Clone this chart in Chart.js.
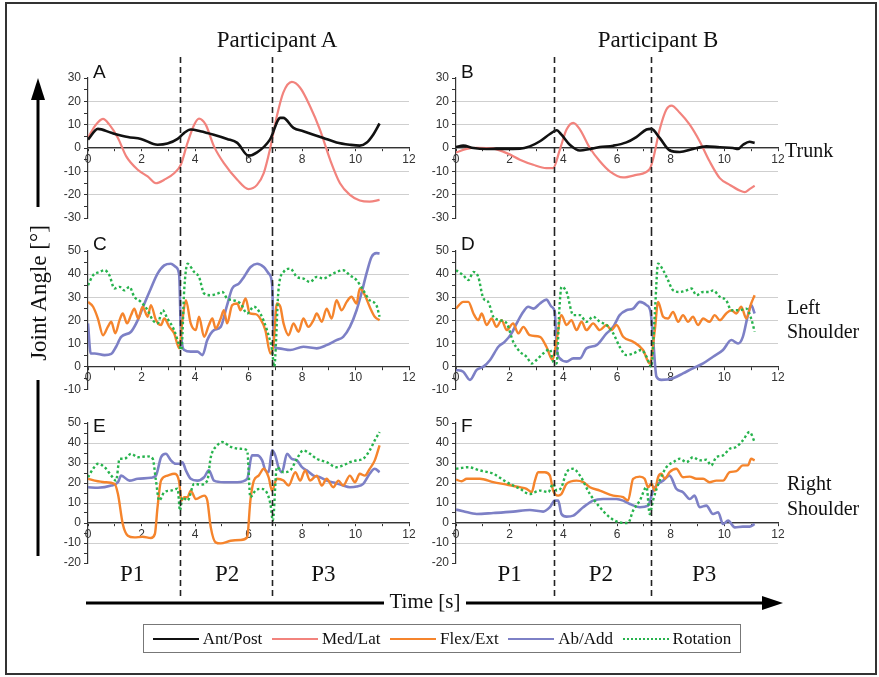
<!DOCTYPE html>
<html>
<head>
<meta charset="utf-8">
<script src="https://cdn.jsdelivr.net/npm/chart.js@4.4.1/dist/chart.umd.min.js"></script>
<style>
  body { margin: 0; width: 879px; height: 677px; position: relative; overflow: hidden; background: #fff; font-family: "Liberation Serif", "Times New Roman", serif; color: #111; }
  .frame { position: absolute; left: 5px; top: 2px; width: 872px; height: 673px; border: 2px solid #333; box-sizing: border-box; }
  canvas { position: absolute; }
  .txt { position: absolute; white-space: nowrap; line-height: 1; }
  .legend { position: absolute; left: 143px; top: 624px; width: 598px; height: 29px; border: 1px solid #777; box-sizing: border-box;
            display: flex; align-items: center; justify-content: space-around; font-size: 17px; padding: 0 4px; }
  .legend span { display: inline-flex; align-items: center; }
  .legend i { display: inline-block; width: 46px; height: 0; border-top: 2.5px solid; margin-right: 4px; }
  svg { position: absolute; left: 0; top: 0; }
</style>
</head>
<body>
<div class="frame"></div>

<canvas id="cA" width="390" height="195" style="left:40px;top:35px"></canvas>
<canvas id="cB" width="392" height="195" style="left:408px;top:35px"></canvas>
<canvas id="cC" width="390" height="170" style="left:40px;top:230px"></canvas>
<canvas id="cD" width="392" height="170" style="left:408px;top:230px"></canvas>
<canvas id="cE" width="390" height="200" style="left:40px;top:400px"></canvas>
<canvas id="cF" width="392" height="200" style="left:408px;top:400px"></canvas>

<div class="txt" style="left:277px;top:28px;font-size:23px;transform:translateX(-50%)">Participant A</div>
<div class="txt" style="left:658px;top:28px;font-size:23px;transform:translateX(-50%)">Participant B</div>
<div class="txt" style="left:785px;top:140px;font-size:20px">Trunk</div>
<div class="txt" style="left:787px;top:297px;font-size:20px">Left</div>
<div class="txt" style="left:787px;top:321px;font-size:20px">Shoulder</div>
<div class="txt" style="left:787px;top:473px;font-size:20px">Right</div>
<div class="txt" style="left:787px;top:498px;font-size:20px">Shoulder</div>

<svg width="879" height="677">
  <line x1="38" y1="98" x2="38" y2="207" stroke="#000" stroke-width="3"/>
  <polygon points="38,78 31,100 45,100" fill="#000"/>
  <line x1="38" y1="380" x2="38" y2="556" stroke="#000" stroke-width="3"/>
  <line x1="86" y1="603" x2="384" y2="603" stroke="#000" stroke-width="3"/>
  <line x1="466" y1="603" x2="768" y2="603" stroke="#000" stroke-width="3"/>
  <polygon points="783,603 762,596 762,610" fill="#000"/>
</svg>
<div class="txt" style="left:38px;top:293px;font-size:23px;transform:translate(-50%,-50%) rotate(-90deg)">Joint Angle [°]</div>
<div class="txt" style="left:425px;top:603px;font-size:21px;transform:translate(-50%,-55%)">Time [s]</div>

<div class="legend">
  <span><i style="border-color:#111"></i>Ant/Post</span>
  <span><i style="border-color:#f2837d"></i>Med/Lat</span>
  <span><i style="border-color:#f5842c"></i>Flex/Ext</span>
  <span><i style="border-color:#7d80c6"></i>Ab/Add</span>
  <span><i style="border-top:2.5px dotted #27b34d"></i>Rotation</span>
</div>

<script>
// phase boundaries (s) and P-label positions
const phaseA = [3.44, 6.86];
const phaseB = [3.66, 7.25];
const pTimesA = [1.65, 5.2, 8.8];
const pTimesB = [2.0, 5.4, 9.25];
const phaseNames = ['P1', 'P2', 'P3'];

// A: trunk, participant A
const aAntPost = [[0,3.6],[0.37,8.2],[0.87,6.5],[1.49,4.7],[1.98,3.9],[2.6,1.4],[2.97,1.9],[3.35,3.9],[3.6,6.5],[3.84,7.9],[4.2,7.2],[4.7,5.7],[5.2,3.9],[5.58,2.2],[6.0,-3.3],[6.32,-1.9],[6.8,3.6],[7.19,12.9],[7.3,12.9],[7.68,8.6],[8.05,7.2],[8.43,5.7],[8.8,4.3],[9.29,2.4],[9.79,1.4],[10.16,1.0],[10.41,2.2],[10.66,5.7],[10.9,10.5]];
const aMedLat = [[0,4.3],[0.25,9.3],[0.56,12.5],[0.8,10],[1.12,4.3],[1.43,-3.6],[1.86,-9.3],[2.23,-12.2],[2.54,-15.1],[2.85,-13.6],[3.22,-10.8],[3.47,-7.2],[3.72,2.2],[3.97,10],[4.15,12.6],[4.4,10],[4.71,0.7],[5.08,-6.5],[5.58,-13.6],[6.0,-17.6],[6.32,-15.8],[6.57,-10.8],[6.8,-0.7],[7.06,13.6],[7.3,23.7],[7.62,28.3],[7.93,25.8],[8.3,17.9],[8.67,7.9],[9.05,-5],[9.42,-15.1],[9.79,-20.1],[10.16,-22.5],[10.53,-23],[10.9,-22.2]];

// B: trunk, participant B
const bAntPost = [[0,0.4],[0.27,1.0],[0.65,0],[1.14,-0.4],[1.76,-0.4],[2.38,-0.3],[2.75,0.7],[3.13,2.9],[3.5,6],[3.75,7.6],[3.93,5.7],[4.24,1.4],[4.62,-1.1],[4.99,-0.4],[5.36,0.4],[5.86,1.0],[6.35,2.4],[6.72,4.7],[7.1,7.9],[7.28,8.2],[7.59,4.3],[7.97,-1.1],[8.34,-1.7],[8.83,-0.4],[9.33,0.7],[9.83,0.3],[10.32,0],[10.51,-0.4],[10.7,1.4],[10.94,2.7],[11.13,2.2]];
const bMedLat = [[0,-1.9],[0.4,-0.4],[0.77,0.1],[1.39,-0.3],[1.89,-2.2],[2.38,-5],[2.88,-7.2],[3.37,-8.6],[3.62,-8.6],[3.87,-0.7],[4.12,7.9],[4.37,10.8],[4.62,7.9],[4.99,0],[5.36,-5.7],[5.73,-10],[6.23,-12.6],[6.72,-11.5],[7.22,-9],[7.34,-5],[7.59,7.9],[7.84,16.5],[8.03,18.2],[8.34,15.1],[8.71,10],[9.08,2.9],[9.45,-5.7],[9.83,-12.9],[10.2,-15.8],[10.57,-18.2],[10.76,-18.9],[10.94,-17.6],[11.13,-16.2]];

// C: left shoulder, participant A
const cFlexExt = [[0,28],[0.19,25.9],[0.37,20.8],[0.56,13.6],[0.74,17.2],[0.87,19.4],[1.02,14.4],[1.18,20.1],[1.3,23],[1.46,18.7],[1.61,22.3],[1.73,25.1],[1.88,20.8],[2.04,25.9],[2.23,21.6],[2.35,26.6],[2.54,20.1],[2.73,18],[2.85,20.8],[3.04,17.2],[3.22,14.4],[3.41,7.9],[3.53,20.1],[3.66,28.7],[3.84,18.7],[4.03,15.8],[4.15,21.6],[4.34,12.9],[4.52,18],[4.65,20.8],[4.77,16.5],[4.96,20.8],[5.08,24.4],[5.2,18.7],[5.39,26.6],[5.58,27.3],[5.7,24.4],[5.89,29.5],[6.05,23],[6.26,22.7],[6.44,20.8],[6.63,15.8],[6.82,5.7],[6.94,10],[7.06,27.3],[7.19,25.9],[7.31,18.7],[7.5,13.6],[7.68,18.7],[7.87,15.1],[8.05,20.8],[8.24,17.2],[8.43,20.1],[8.55,23],[8.74,19.4],[8.92,25.1],[9.11,20.8],[9.29,28.7],[9.48,24.4],[9.67,28],[9.85,30.2],[10.04,27.3],[10.16,33.8],[10.35,30.9],[10.53,25.9],[10.72,21.6],[10.9,20.1]];
const cAbAdd = [[0,18.7],[0.1,5.7],[0.25,5.7],[0.62,5],[0.87,5.5],[1.05,8.6],[1.24,12.9],[1.61,15.1],[1.86,20.1],[2.11,27.3],[2.35,33.8],[2.6,40.2],[2.85,43.8],[3.1,44.5],[3.28,43.1],[3.41,39.5],[3.47,15.8],[3.6,7.2],[3.84,6.5],[4.09,6.5],[4.28,5],[4.46,11.5],[4.71,15.8],[4.96,17.2],[5.2,26.6],[5.39,33.8],[5.64,35.9],[5.83,38.8],[6.08,43.1],[6.32,44.5],[6.57,43.1],[6.76,40.2],[6.88,35.9],[6.96,8.6],[7.12,7.9],[7.56,7.2],[8.05,8.6],[8.55,7.9],[8.92,9.3],[9.29,11.5],[9.54,12.9],[9.79,17.2],[10.04,24.4],[10.22,31.6],[10.41,40.2],[10.6,47.4],[10.78,49.1],[10.9,48.9]];
const cRotation = [[0,35.2],[0.19,39.5],[0.43,40.9],[0.62,41.7],[0.8,39.5],[0.99,33.8],[1.18,34.5],[1.36,33],[1.55,34.5],[1.73,30.2],[1.98,28],[2.23,24.4],[2.42,20.1],[2.6,18.7],[2.79,24.4],[2.97,20.8],[3.22,15.8],[3.41,9.3],[3.49,7.2],[3.6,33.8],[3.72,44.5],[3.97,40.9],[4.15,38.8],[4.34,31.6],[4.59,30.9],[4.83,31.6],[5.02,32.3],[5.2,29.5],[5.45,28.7],[5.7,27.3],[5.95,23],[6.2,25.9],[6.44,23],[6.69,15.8],[6.88,7.2],[6.96,0],[7.12,33],[7.31,40.9],[7.56,42.4],[7.81,38.8],[8.05,38.1],[8.3,36.6],[8.55,38.8],[8.8,38.1],[9.05,39.5],[9.29,40.9],[9.54,41.7],[9.79,39.5],[10.04,37.4],[10.29,33],[10.53,28.7],[10.78,26.6],[10.9,21.6]];

// D: left shoulder, participant B
const dFlexExt = [[0,25.1],[0.27,28],[0.46,28],[0.65,23],[0.83,20.1],[0.96,23],[1.14,18],[1.33,20.8],[1.51,17.2],[1.7,20.1],[1.89,15.8],[2.13,18.7],[2.32,14.4],[2.51,17.2],[2.75,13.6],[3.13,12.9],[3.37,8.6],[3.6,2.9],[3.75,11.5],[3.93,22.3],[4.12,18],[4.3,20.1],[4.49,15.8],[4.68,19.4],[4.86,15.8],[5.11,18.7],[5.36,15.8],[5.61,18],[5.79,15.8],[5.98,18],[6.23,12.9],[6.6,10.8],[6.97,7.2],[7.22,1.4],[7.41,15.8],[7.53,28],[7.72,21.6],[7.9,20.8],[8.09,23.7],[8.28,19.4],[8.46,22.3],[8.65,19.4],[8.83,21.6],[9.02,18],[9.21,20.8],[9.45,19.4],[9.64,22.3],[9.83,20.1],[10.07,23],[10.26,24.4],[10.45,23],[10.63,25.9],[10.82,20.8],[11.0,27.3],[11.13,30.9]];
const dAbAdd = [[0,-1.4],[0.27,-2.2],[0.52,-5.7],[0.77,-1.4],[1.02,0],[1.27,2.9],[1.58,8.6],[1.82,10.8],[2.07,14.4],[2.26,18.7],[2.51,23.7],[2.69,25.9],[2.88,25.1],[3.13,27.3],[3.37,29],[3.56,25.9],[3.68,23.7],[3.75,8.6],[3.87,3.6],[4.12,2.2],[4.37,3.6],[4.62,3.6],[4.86,7.9],[5.24,9.3],[5.61,14.4],[5.86,17.2],[6.1,22.3],[6.35,24.4],[6.6,25.1],[6.85,28],[7.1,26.6],[7.25,23.7],[7.34,12.9],[7.47,-4.3],[7.65,-5.7],[8.09,-5],[8.46,-2.9],[8.83,-0.7],[9.21,1.4],[9.58,4.3],[9.95,7.2],[10.26,11.5],[10.51,10],[10.69,12.9],[10.88,22.3],[11.0,26.6],[11.13,23]];
const dRotation = [[0,41.7],[0.27,39.5],[0.46,37.4],[0.65,40.9],[0.83,38.8],[1.02,29.5],[1.2,28],[1.39,21.6],[1.64,20.1],[1.89,18.7],[2.13,10.8],[2.38,6.5],[2.63,4.3],[2.82,1.4],[3.0,2.9],[3.25,5.7],[3.5,7.5],[3.62,2.2],[3.75,1.4],[3.85,24.4],[3.93,34.5],[4.12,32.3],[4.37,22.3],[4.62,22.3],[4.86,19.4],[5.11,21.6],[5.36,19.4],[5.61,18],[5.86,14.4],[6.1,8.6],[6.35,5],[6.6,5.7],[6.91,7.2],[7.1,4.3],[7.28,0],[7.41,23],[7.53,44.5],[7.72,41.7],[7.9,37.4],[8.09,33],[8.34,32.3],[8.59,33],[8.77,33.8],[8.96,30.9],[9.21,32.3],[9.45,32.3],[9.58,33],[9.83,30.2],[10.07,28.7],[10.26,24.4],[10.57,24.4],[10.82,25.1],[11.0,20.8],[11.13,15.1]];

// E: right shoulder, participant A
const eFlexExt = [[0,22.1],[0.25,21.2],[0.62,20.4],[0.99,19.6],[1.12,14.5],[1.3,-0.5],[1.49,-6.4],[1.73,-7.2],[2.04,-6.9],[2.35,-7.5],[2.5,-5.5],[2.6,7.9],[2.73,21.2],[2.97,23.7],[3.22,24.6],[3.41,20.4],[3.49,11.2],[3.6,12.9],[3.72,12.9],[3.84,16.2],[4.03,12],[4.34,13.7],[4.46,11.2],[4.59,-2.2],[4.77,-9.7],[4.96,-10.2],[5.33,-8.9],[5.7,-8.5],[5.95,-7.2],[6.07,11.2],[6.2,21.2],[6.38,23.7],[6.57,27.1],[6.75,22.9],[6.88,16.2],[7.06,22.1],[7.31,21.2],[7.5,18.7],[7.75,25.4],[7.93,21.2],[8.12,26.3],[8.3,21.2],[8.55,23.7],[8.74,18.7],[8.92,22.1],[9.17,17.9],[9.36,21.2],[9.54,18.7],[9.79,23.7],[9.98,20.4],[10.16,24.6],[10.35,23.7],[10.53,27.1],[10.72,31.3],[10.9,38.8]];
const eAbAdd = [[0,17.9],[0.37,17.6],[0.87,18.7],[1.12,20.4],[1.24,23.7],[1.55,21.2],[1.86,22.1],[2.35,22.6],[2.54,23.7],[2.73,32.9],[2.91,34.6],[3.1,31.3],[3.28,29.6],[3.44,29.6],[3.53,30.4],[3.66,26.3],[3.84,22.1],[4.09,21.2],[4.34,22.9],[4.52,26.3],[4.71,21.2],[5.08,20.4],[5.58,20.4],[5.95,22.1],[6.13,33.8],[6.32,33.8],[6.51,31.3],[6.63,26.3],[6.75,25.4],[6.88,36.3],[7.0,33.8],[7.12,27.9],[7.25,25.4],[7.44,34.6],[7.62,32.1],[7.81,31.3],[8.0,27.9],[8.18,26.3],[8.43,23.7],[8.67,22.9],[8.92,21.2],[9.29,19.9],[9.54,18.7],[9.79,17.9],[10.04,18.2],[10.29,19.6],[10.53,24.6],[10.72,27.1],[10.9,25.4]];
const eRotation = [[0,22.9],[0.19,27.1],[0.37,29.6],[0.62,27.9],[0.87,23.7],[1.05,21.2],[1.18,32.1],[1.36,32.1],[1.61,34.6],[1.86,32.9],[2.23,33.3],[2.42,32.1],[2.54,21.2],[2.66,11.2],[2.85,15.4],[3.1,16.2],[3.35,17.1],[3.44,6.2],[3.53,12.9],[3.72,11.2],[3.97,19.6],[4.21,19.2],[4.46,21.2],[4.59,32.9],[4.83,38.8],[5.02,40.5],[5.33,38.1],[5.7,37.1],[5.95,36.3],[6.07,12.9],[6.26,16.2],[6.44,17.1],[6.63,16.2],[6.82,9.5],[6.91,1.2],[7.06,27.9],[7.31,25.4],[7.56,26.3],[7.81,32.1],[8.05,36.3],[8.3,34.6],[8.55,32.1],[8.92,30.4],[9.29,27.9],[9.54,28.8],[9.79,30.4],[10.04,31.3],[10.29,32.1],[10.53,36.3],[10.72,41.3],[10.9,45.5]];

// F: right shoulder, participant B
const fFlexExt = [[0,21.7],[0.21,20.9],[0.4,22.1],[0.89,22.1],[1.39,20.4],[1.89,19.2],[2.38,17.9],[2.63,17.1],[2.82,15.4],[2.94,21.2],[3.06,25.4],[3.31,25.4],[3.5,23.7],[3.62,16.2],[3.81,13.7],[3.93,14.5],[4.12,19.6],[4.49,21.2],[4.74,20.4],[4.99,17.9],[5.36,16.2],[5.86,13.7],[6.23,12.9],[6.41,11.2],[6.6,22.1],[6.85,23.2],[7.03,22.1],[7.16,17.9],[7.28,19.6],[7.41,16.2],[7.53,22.9],[7.65,24.6],[7.78,22.1],[7.96,25.4],[8.21,27.1],[8.46,22.9],[8.71,23.2],[8.96,22.1],[9.21,22.1],[9.45,20.4],[9.7,21.2],[9.95,21.2],[10.2,25.4],[10.45,25.9],[10.69,28.8],[10.88,28.8],[11.0,32.1],[11.13,31.3]];
const fAbAdd = [[0,6.7],[0.27,5.9],[0.77,4.5],[1.39,5],[2.13,5.7],[2.75,6.5],[3.25,5.7],[3.5,7.9],[3.68,11.2],[3.81,11.2],[3.93,4.5],[4.12,3.2],[4.37,3.7],[4.74,7.9],[5.11,11.2],[5.48,12],[5.98,12],[6.23,11.2],[6.48,9.5],[6.85,7.9],[7.16,8.7],[7.34,16.2],[7.53,19.6],[7.72,21.2],[7.96,23.7],[8.21,17.1],[8.46,15.4],[8.71,12],[8.89,13.7],[9.08,7.9],[9.33,8.7],[9.58,4.5],[9.77,5.4],[9.95,-0.5],[10.14,1.2],[10.39,-2.2],[10.69,-1.8],[10.94,-1.8],[11.13,-0.5]];
const fRotation = [[0,27.1],[0.46,27.9],[0.89,26.3],[1.39,24.6],[1.89,20.4],[2.38,17.1],[2.75,14.5],[3.13,16.2],[3.44,15.4],[3.62,19.6],[3.75,16.2],[3.93,17.9],[4.12,25.4],[4.37,27.1],[4.62,23.7],[4.99,14.5],[5.36,7.9],[5.73,2.8],[6.1,0.3],[6.41,0],[6.6,6.2],[6.85,11.2],[7.1,17.9],[7.22,4.5],[7.34,11.2],[7.59,21.2],[7.84,27.9],[8.09,30.4],[8.34,32.1],[8.59,30.4],[8.83,32.9],[9.08,31.3],[9.33,31.6],[9.51,28.8],[9.7,32.9],[9.95,33.8],[10.2,37.1],[10.45,38.1],[10.69,41.3],[10.94,45.5],[11.13,40.5]];

const colAntPost = '#111111';
const colMedLat = '#f2837d';
const colFlex = '#f5842c';
const colAbAdd = '#7d80c6';
const colRot = '#27b34d';

function line(pts, color, width, dash) {
  return {
    data: pts.map(p => ({ x: p[0], y: p[1] })),
    borderColor: color,
    borderWidth: width,
    borderDash: dash || [],
    pointRadius: 0,
    fill: false
  };
}

// dashed phase lines, panel letter and P labels
const phasePlugin = {
  id: 'phase',
  afterDraw(chart, args, opts) {
    const ctx = chart.ctx, xs = chart.scales.x, a = chart.chartArea;
    ctx.save();
    ctx.strokeStyle = '#222';
    ctx.lineWidth = 1.6;
    ctx.setLineDash([6, 4]);
    opts.bounds.forEach(t => {
      const px = Math.round(xs.getPixelForValue(t)) + 0.5;
      ctx.beginPath();
      ctx.moveTo(px, opts.from);
      ctx.lineTo(px, chart.height);
      ctx.stroke();
    });
    ctx.setLineDash([]);
    ctx.fillStyle = '#111';
    ctx.font = '19px "Liberation Sans", Arial, sans-serif';
    ctx.textBaseline = 'alphabetic';
    ctx.fillText(opts.letter, a.left + 5, a.top + opts.letterDy);
    if (opts.pTimes) {
      ctx.font = '23px "Liberation Serif", serif';
      ctx.textAlign = 'center';
      ctx.textBaseline = 'middle';
      opts.pTimes.forEach((t, i) => ctx.fillText(phaseNames[i], xs.getPixelForValue(t), a.bottom + 12));
    }
    ctx.restore();
  }
};

function makePanel(id, pad, yMin, yMax, datasets, phase) {
  const tickFont = { family: '"Liberation Sans", Arial, sans-serif', size: 12 };
  new Chart(document.getElementById(id), {
    type: 'line',
    data: { datasets: datasets },
    options: {
      responsive: false,
      animation: false,
      layout: { padding: pad },
      elements: { line: { cubicInterpolationMode: 'monotone' } },
      plugins: { legend: { display: false }, tooltip: { enabled: false }, phase: phase },
      scales: {
        x: {
          type: 'linear', min: 0, max: 12, position: { y: 0 },
          ticks: { stepSize: 1, autoSkip: false, maxRotation: 0, padding: 1, color: '#333', font: tickFont,
                   callback: v => (v % 2 === 0 ? v : '') },
          grid: { drawOnChartArea: false, tickLength: 3, tickColor: '#333' },
          border: { color: '#333', width: 1.2 }
        },
        y: {
          min: yMin, max: yMax,
          afterFit: s => { s.width = 48; },
          ticks: { stepSize: 5, autoSkip: false, padding: 3, color: '#333', font: tickFont,
                   callback: v => (v % 10 === 0 ? v : '') },
          grid: {
            color: c => (c.tick && c.tick.value % 10 === 0 && c.tick.value !== yMin && c.tick.value !== yMax) ? '#cfcfcf' : 'rgba(0,0,0,0)',
            tickColor: '#333', tickLength: 4
          },
          border: { color: '#333', width: 1.2 }
        }
      }
    },
    plugins: [phasePlugin]
  });
}

makePanel('cA', { top: 43, bottom: 12, left: 0, right: 21 }, -30, 30,
  [line(aAntPost, colAntPost, 2.6), line(aMedLat, colMedLat, 2.2)],
  { bounds: phaseA, from: 22, letter: 'A', letterDy: 0 });
makePanel('cB', { top: 43, bottom: 12, left: 0, right: 22 }, -30, 30,
  [line(bAntPost, colAntPost, 2.6), line(bMedLat, colMedLat, 2.2)],
  { bounds: phaseB, from: 22, letter: 'B', letterDy: 0 });
makePanel('cC', { top: 21, bottom: 10, left: 0, right: 21 }, -10, 50,
  [line(cRotation, colRot, 2.4, [2.5, 2.5]), line(cFlexExt, colFlex, 2.4), line(cAbAdd, colAbAdd, 2.6)],
  { bounds: phaseA, from: 0, letter: 'C', letterDy: -1 });
makePanel('cD', { top: 21, bottom: 10, left: 0, right: 22 }, -10, 50,
  [line(dRotation, colRot, 2.4, [2.5, 2.5]), line(dFlexExt, colFlex, 2.4), line(dAbAdd, colAbAdd, 2.6)],
  { bounds: phaseB, from: 0, letter: 'D', letterDy: -1 });
makePanel('cE', { top: 23, bottom: 37, left: 0, right: 21 }, -20, 50,
  [line(eRotation, colRot, 2.4, [2.5, 2.5]), line(eFlexExt, colFlex, 2.4), line(eAbAdd, colAbAdd, 2.6)],
  { bounds: phaseA, from: 0, letter: 'E', letterDy: 9, pTimes: pTimesA });
makePanel('cF', { top: 23, bottom: 37, left: 0, right: 22 }, -20, 50,
  [line(fRotation, colRot, 2.4, [2.5, 2.5]), line(fFlexExt, colFlex, 2.4), line(fAbAdd, colAbAdd, 2.6)],
  { bounds: phaseB, from: 0, letter: 'F', letterDy: 9, pTimes: pTimesB });
</script>
</body>
</html>
